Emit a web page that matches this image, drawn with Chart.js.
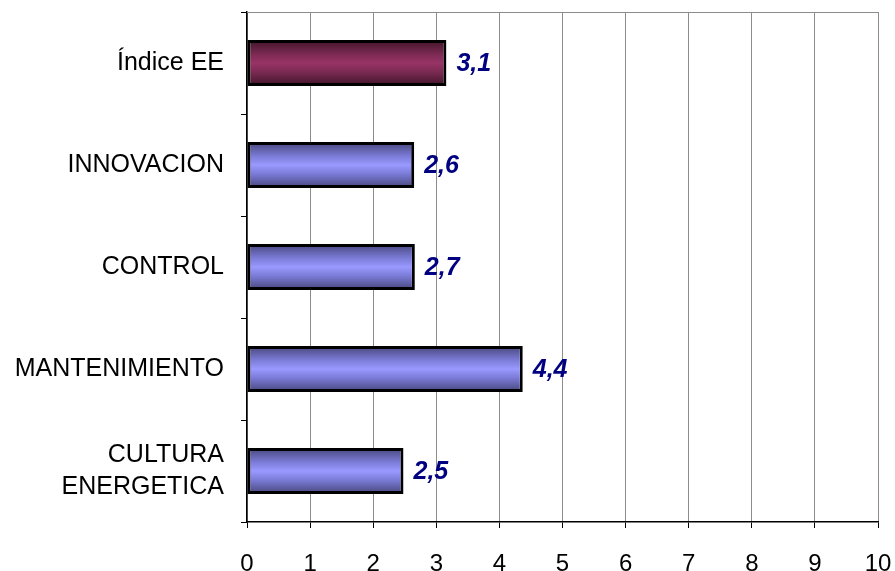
<!DOCTYPE html>
<html>
<head>
<meta charset="utf-8">
<script src="https://cdn.jsdelivr.net/npm/chart.js@4/dist/chart.umd.min.js"></script>
<style>
  body { margin: 0; background: #fff; }
  canvas { display: block; }
</style>
</head>
<body>
<canvas id="grafico" width="895" height="571"></canvas>
<script>
// categorias de arriba hacia abajo
const categorias = ["Índice EE", "INNOVACION", "CONTROL", "MANTENIMIENTO", ["CULTURA", "ENERGETICA"]];
// largo de las barras
const valores = [3.16, 2.65, 2.66, 4.37, 2.48];
// etiquetas que se muestran junto a cada barra
const etiquetas = ["3,1", "2,6", "2,7", "4,4", "2,5"];
const ticksX = [0, 1, 2, 3, 4, 5, 6, 7, 8, 9, 10];

// colores base (borde oscuro, centro claro)
const coloresBarra = [
  ["#3f1428", "#7a2a52", "#993366"],
  ["#46467a", "#7a7ad6", "#9999ff"],
  ["#46467a", "#7a7ad6", "#9999ff"],
  ["#46467a", "#7a7ad6", "#9999ff"],
  ["#46467a", "#7a7ad6", "#9999ff"]
];

// pone un degradado vertical a cada barra justo antes de dibujarla
const degradados = {
  id: "degradados",
  beforeDatasetsDraw(chart) {
    const ctx = chart.ctx;
    chart.getDatasetMeta(0).data.forEach(function (barra, i) {
      const arriba = barra.y - barra.height / 2;
      const abajo = barra.y + barra.height / 2;
      if (!isFinite(arriba) || !isFinite(abajo)) return;
      const c = coloresBarra[i];
      const g = ctx.createLinearGradient(0, arriba, 0, abajo);
      g.addColorStop(0, c[0]);
      g.addColorStop(0.3, c[1]);
      g.addColorStop(0.5, c[2]);
      g.addColorStop(0.7, c[1]);
      g.addColorStop(1, c[0]);
      barra.options.backgroundColor = g;
    });
  }
};

// escribe el valor al lado de la barra y el borde gris arriba
const extras = {
  id: "extras",
  afterDatasetsDraw(chart) {
    const ctx = chart.ctx;
    const area = chart.chartArea;
    ctx.save();
    ctx.strokeStyle = "#8c8c8c";
    ctx.lineWidth = 1;
    ctx.beginPath();
    ctx.moveTo(area.left, area.top + 0.5);
    ctx.lineTo(area.right, area.top + 0.5);
    ctx.stroke();

    ctx.font = "italic bold 25px 'Liberation Sans', Arial, sans-serif";
    ctx.fillStyle = "#000080";
    ctx.textBaseline = "middle";
    ctx.textAlign = "left";
    chart.getDatasetMeta(0).data.forEach(function (barra, i) {
      ctx.fillText(etiquetas[i], barra.x + 10, barra.y + 1);
    });
    ctx.restore();
  }
};

const grafico = new Chart(document.querySelector("#grafico"), {
  type: "bar",
  data: {
    labels: categorias,
    datasets: [{
      data: valores,
      backgroundColor: function (context) { return coloresBarra[context.dataIndex || 0][2]; },
      borderColor: "#000000",
      borderWidth: 3,
      borderSkipped: false,
      categoryPercentage: 1,
      barPercentage: 0.45
    }]
  },
  options: {
    indexAxis: "y",
    responsive: false,
    animation: false,
    layout: { padding: { top: 12, right: 17, left: 0, bottom: 0 } },
    plugins: {
      legend: { display: false },
      tooltip: { enabled: false }
    },
    scales: {
      x: {
        min: 0,
        max: 10,
        afterBuildTicks(escala) {
          escala.ticks = ticksX.map(function (v) { return { value: v }; });
        },
        afterFit(escala) {
          escala.height = 49;
          escala.paddingLeft = 0;
          escala.paddingRight = 0;
        },
        border: { color: "#000", width: 1.5 },
        grid: { color: "#8c8c8c", tickColor: "#000", tickLength: 6, lineWidth: 1 },
        ticks: {
          color: "#000",
          padding: 22,
          font: { family: "'Liberation Sans', Arial, sans-serif", size: 24 }
        }
      },
      y: {
        afterFit(escala) {
          escala.width = 247;
          escala.paddingTop = 0;
          escala.paddingBottom = 0;
        },
        border: { color: "#000", width: 1.5 },
        grid: { offset: true, drawOnChartArea: false, tickColor: "#000", tickLength: 6 },
        ticks: {
          color: "#000",
          padding: 17,
          font: { family: "'Liberation Sans', Arial, sans-serif", size: 25, lineHeight: 1.3 }
        }
      }
    }
  },
  plugins: [degradados, extras]
});
</script>
</body>
</html>
